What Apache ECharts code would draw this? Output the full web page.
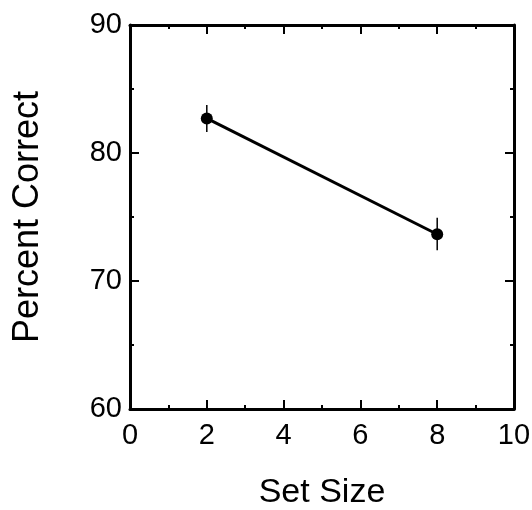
<!DOCTYPE html>
<html>
<head>
<meta charset="utf-8">
<script src="https://cdn.jsdelivr.net/npm/echarts@6/dist/echarts.min.js"></script>
<style>
  html, body { margin: 0; padding: 0; background: #fff; }
  #chart { width: 532px; height: 510px; }
</style>
</head>
<body>
<div id="chart"></div>
<script>
// set size vs. percent correct, with error bars
const setSizes = [2, 8]
const pctCorrect = [82.7, 73.65]
const errLow = [81.65, 72.4]
const errHigh = [83.75, 74.95]

const font = 'Liberation Sans, Arial, sans-serif'
const c = echarts.init(document.getElementById('chart'))

const tickCommon = { show: true, inside: true, length: 9, lineStyle: { color: '#000', width: 2 } }
const minorCommon = { show: true, splitNumber: 2, length: 4, lineStyle: { color: '#000', width: 2 } }
const lineCommon = { show: true, onZero: false, lineStyle: { color: '#000', width: 3 } }

c.setOption({
  animation: false,
  grid: { left: 130, right: 18, top: 25, bottom: 101, outerBoundsMode: 'none' },
  xAxis: [
    {
      type: 'value', min: 0, max: 10, interval: 2,
      name: 'Set Size', nameLocation: 'middle', nameGap: 67,
      nameTextStyle: { fontFamily: font, fontSize: 34, color: '#000' },
      axisLine: lineCommon, axisTick: tickCommon, minorTick: minorCommon,
      axisLabel: { fontFamily: font, fontSize: 29, color: '#000', margin: 12 },
      splitLine: { show: false }
    },
    {
      type: 'value', min: 0, max: 10, interval: 2, position: 'top',
      axisLine: lineCommon, axisTick: tickCommon, minorTick: minorCommon,
      axisLabel: { show: false }, splitLine: { show: false }
    }
  ],
  yAxis: [
    {
      type: 'value', min: 60, max: 90, interval: 10,
      name: 'Percent Correct', nameLocation: 'middle', nameGap: 84,
      nameTextStyle: { fontFamily: font, fontSize: 36, color: '#000' },
      axisLine: lineCommon, axisTick: tickCommon, minorTick: minorCommon,
      axisLabel: { fontFamily: font, fontSize: 29, color: '#000', margin: 8 },
      splitLine: { show: false }
    },
    {
      type: 'value', min: 60, max: 90, interval: 10, position: 'right',
      axisLine: lineCommon, axisTick: tickCommon, minorTick: minorCommon,
      axisLabel: { show: false }, splitLine: { show: false }
    }
  ],
  series: [
    {
      type: 'custom',
      data: setSizes.map((x, i) => [x, errLow[i], errHigh[i]]),
      renderItem: (params, api) => {
        const lo = api.coord([api.value(0), api.value(1)])
        const hi = api.coord([api.value(0), api.value(2)])
        return {
          type: 'line',
          shape: { x1: lo[0], y1: lo[1], x2: hi[0], y2: hi[1] },
          style: { stroke: '#000', lineWidth: 1.5 }
        }
      },
      z: 1
    },
    {
      type: 'line',
      data: setSizes.map((x, i) => [x, pctCorrect[i]]),
      symbol: 'circle', symbolSize: 12,
      lineStyle: { color: '#000', width: 3 },
      itemStyle: { color: '#000' },
      z: 2
    }
  ]
})
</script>
</body>
</html>
